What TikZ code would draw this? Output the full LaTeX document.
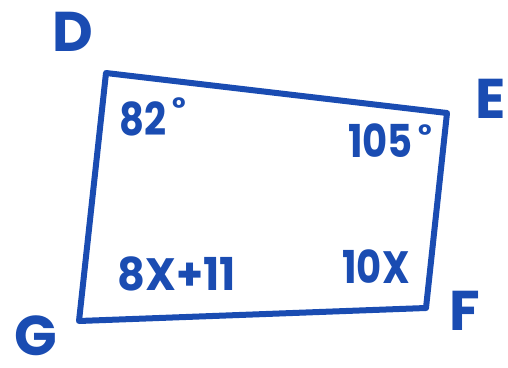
\documentclass[tikz,border=0pt]{standalone}
\usepackage{fontspec}
\setmainfont{Poppins}
\definecolor{ink}{RGB}{26,76,178}
\newcommand{\narrow}[1]{\scalebox{0.85}[1]{#1}}
\begin{document}
\begin{tikzpicture}[x=0.75pt,y=-0.75pt,
  lbl/.style={text=ink,font=\fontsize{42}{42}\selectfont\bfseries,inner sep=0pt},
  ang/.style={text=ink,font=\fontsize{34}{34}\selectfont\bfseries,inner sep=0pt},
  deg/.style={text=ink,font=\fontsize{22}{22}\selectfont\bfseries,inner sep=0pt},
  edge/.style={draw=ink,line width=4.5pt,line join=round,line cap=round}]
\useasboundingbox (0,0) rectangle (508,368);
\coordinate (D) at (106,73);
\coordinate (E) at (447,113);
\coordinate (F) at (426,308);
\coordinate (G) at (79,321);
\draw[edge] (D) -- (E) -- (F) -- (G) -- cycle;
\node[lbl] (lD) at (73,32) {D};
\node[lbl] (lE) at (491,99) {E};
\node[lbl] (lF) at (465,311) {F};
\node[lbl] (lG) at (36,336) {G};
\node[ang,anchor=west] (a1) at (119,119) {\narrow{82}};
\node[deg] (d1) at (179,108) {°};
\node[ang,anchor=west] (a2) at (348,141) {\narrow{105}};
\node[deg] (d2) at (425,135) {°};
\node[ang] (a3) at (177,274) {\scalebox{0.95}[1]{8X+11}};
\node[ang] (a4) at (376,267) {\narrow{10X}};
\end{tikzpicture}
\end{document}
